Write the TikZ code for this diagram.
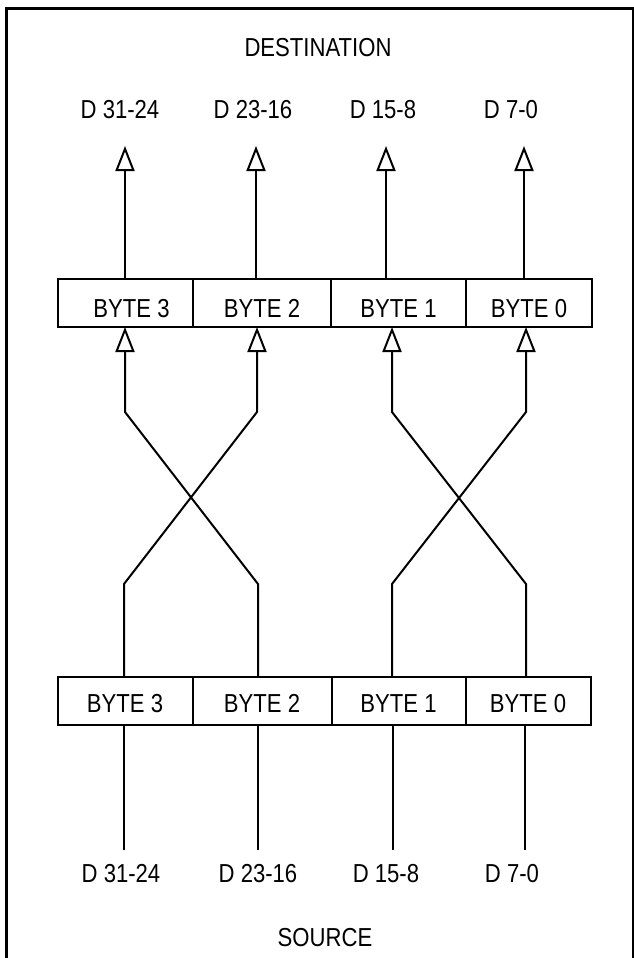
\documentclass[tikz,border=0pt]{standalone}
\usepackage{fontspec}
\setmainfont[FakeStretch=0.85]{Liberation Sans}
\usetikzlibrary{arrows.meta,positioning}

\begin{document}
\begin{tikzpicture}[x=1pt,y=-1pt,font=\fontsize{26}{28}\selectfont,
    every node/.style={align=center},
    bytebox/.style={draw,line width=2pt,minimum height=48pt,inner sep=0pt,outer sep=0pt,
      text height=22pt,text depth=0pt},
    dstbox/.style={bytebox,text height=28pt},
    wire/.style={line width=2pt},
    tipped/.style={wire,-{Triangle[open,length=25pt,width=19pt]}}]
    \useasboundingbox (0,0) rectangle (634,958);
    \draw[line width=3pt] (6,958)--(6,9)--(633,9)--(633,958);
    \node (dst) at (318,48) {DESTINATION};
    \node (src) at (325,938) {SOURCE};
    % destination register
    \node[dstbox,minimum width=135pt] (dst3) at (125.5,303) {\hspace{12pt}BYTE 3};
    \node[dstbox,minimum width=138pt,right=0pt of dst3] (dst2) {BYTE 2};
    \node[dstbox,minimum width=135pt,right=0pt of dst2] (dst1) {BYTE 1};
    \node[dstbox,minimum width=126pt,right=0pt of dst1] (dst0) {BYTE 0};
    % source register
    \node[bytebox,minimum width=135pt] (src3) at (125,701) {BYTE 3};
    \node[bytebox,minimum width=139pt,right=0pt of src3] (src2) {BYTE 2};
    \node[bytebox,minimum width=134pt,right=0pt of src2] (src1) {BYTE 1};
    \node[bytebox,minimum width=125pt,right=0pt of src1] (src0) {BYTE 0};
    % data bus labels
    \node (dlab3) at (120,110) {D 31-24};
    \node (dlab2) at (253,110) {D 23-16};
    \node (dlab1) at (383,110) {D 15-8};
    \node (dlab0) at (511,110) {D 7-0};
    \node (slab3) at (121,874) {D 31-24};
    \node (slab2) at (258,874) {D 23-16};
    \node (slab1) at (386,874) {D 15-8};
    \node (slab0) at (512,874) {D 7-0};
    % bus ends
    \coordinate (dout3) at (125,146);
    \coordinate (dout2) at (256,146);
    \coordinate (dout1) at (386,146);
    \coordinate (dout0) at (524,146);
    \coordinate (sin3) at (124,850);
    \coordinate (sin2) at (258,850);
    \coordinate (sin1) at (393,850);
    \coordinate (sin0) at (525,850);
    \draw[tipped] (dout3 |- dst3.north)--(dout3);
    \draw[tipped] (dout2 |- dst2.north)--(dout2);
    \draw[tipped] (dout1 |- dst1.north)--(dout1);
    \draw[tipped] (dout0 |- dst0.north)--(dout0);
    \draw[wire] (sin3 |- src3.south)--(sin3);
    \draw[wire] (sin2 |- src2.south)--(sin2);
    \draw[wire] (sin1 |- src1.south)--(sin1);
    \draw[wire] (sin0 |- src0.south)--(sin0);
    % byte swap
    \draw[tipped] (124,0 |- src3.north)--(124,584)--(257,412)--(257,0 |- dst2.south);
    \draw[tipped] (258,0 |- src2.north)--(258,584)--(125,412)--(125,0 |- dst3.south);
    \draw[tipped] (392,0 |- src1.north)--(392,584)--(526,412)--(526,0 |- dst0.south);
    \draw[tipped] (526,0 |- src0.north)--(526,584)--(392,412)--(392,0 |- dst1.south);
  \end{tikzpicture}
\end{document}
